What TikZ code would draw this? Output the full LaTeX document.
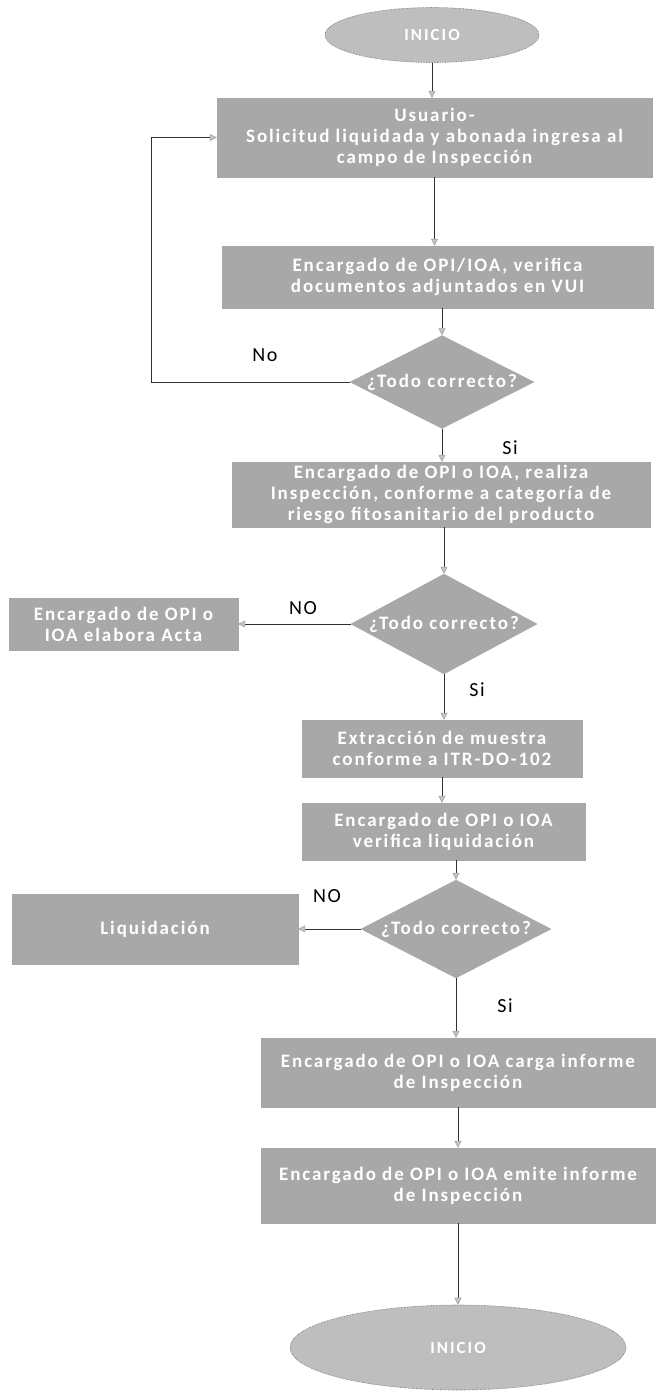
\documentclass[tikz,border=0pt]{standalone}
\usepackage{fontspec}
\setmainfont{Carlito}
\newfontfamily\boxfam[LetterSpace=10]{Carlito}
\newfontfamily\termfam[LetterSpace=12]{Carlito}
\newfontfamily\lblfam[LetterSpace=8]{Carlito}
\usetikzlibrary{shapes.geometric,arrows.meta,calc}
\definecolor{boxfill}{HTML}{A8A8A8}
\definecolor{ellfill}{HTML}{BEBEBE}
\definecolor{lincol}{HTML}{303030}
\newcommand\boxfnt{\boxfam\bfseries\fontsize{19}{21}\selectfont}
\newcommand\termfnt{\termfam\bfseries\fontsize{17}{19}\selectfont}
\newcommand\lblfnt{\lblfam\fontsize{20}{22}\selectfont}
\tikzset{
  procbox/.style={rectangle, fill=boxfill, draw=gray!70, line width=0.4pt, text=white, font=\boxfnt, align=center, inner sep=0pt},
  decis/.style={diamond, aspect=2, fill=boxfill, draw=gray!70, line width=0.4pt, text=white, font=\boxfnt, inner sep=0pt},
  term/.style={ellipse, fill=ellfill, draw=gray!80!black, densely dotted, line width=0.6pt, text=white, font=\termfnt, inner sep=0pt},
  arr/.style={draw=lincol, line width=0.7pt, -{Triangle[length=7pt,width=7pt,color=gray!70,fill=gray!45]}},
  lbl/.style={font=\lblfnt, text=black, inner sep=0pt}
}
\begin{document}
\begin{tikzpicture}[x=1pt,y=-1pt]
\useasboundingbox (0,0) rectangle (656,1394);
\node[term, minimum width=214pt, minimum height=55pt] (start) at (432,35) {INICIO};
\node[procbox, minimum width=435pt, minimum height=79pt] (b1) at (434.5,137.5) {Usuario-\\Solicitud liquidada y abonada ingresa al\\campo de Inspección};
\node[procbox, minimum width=431pt, minimum height=62pt] (b2) at (437.5,277) {Encargado de OPI/IOA, verifica\\documentos adjuntados en VUI};
\node[decis, minimum width=184pt, minimum height=93pt] (d1) at (442,382) {¿Todo correcto?};
\node[procbox, minimum width=418pt, minimum height=65pt] (b3) at (441,494.5) {Encargado de OPI o IOA, realiza\\Inspección, conforme a categoría de\\riesgo fitosanitario del producto};
\node[decis, minimum width=186pt, minimum height=100pt] (d2) at (444,624) {¿Todo correcto?};
\node[procbox, minimum width=229pt, minimum height=52pt] (acta) at (123.5,624) {Encargado de OPI o\\IOA elabora Acta};
\node[procbox, minimum width=280pt, minimum height=57pt] (b4) at (442,748.5) {Extracción de muestra\\conforme a ITR-DO-102};
\node[procbox, minimum width=283pt, minimum height=57pt] (b5) at (443.5,831.5) {Encargado de OPI o IOA\\verifica liquidación};
\node[decis, minimum width=190pt, minimum height=98pt] (d3) at (456,929) {¿Todo correcto?};
\node[procbox, minimum width=286pt, minimum height=70pt] (liq) at (155,929) {Liquidación};
\node[procbox, minimum width=394pt, minimum height=69pt] (b6) at (458,1072.5) {Encargado de OPI o IOA carga informe\\de Inspección};
\node[procbox, minimum width=394pt, minimum height=75pt] (b7) at (458,1185.5) {Encargado de OPI o IOA emite informe\\de Inspección};
\node[term, minimum width=336pt, minimum height=85pt] (end) at (458,1347.5) {INICIO};
% connectors
\draw[arr] (start.south) -- (start.south |- b1.north);
\draw[arr] (b1.south) -- (b1.south |- b2.north);
\draw[arr] (d1.north |- b2.south) -- (d1.north);
\draw[arr] (d1.south) -- (d1.south |- b3.north);
\draw[arr] (d2.north |- b3.south) -- (d2.north);
\draw[arr] (d2.south) -- (d2.south |- b4.north);
\draw[arr] (b4.south) -- (b4.south |- b5.north);
\draw[arr] (d3.north |- b5.south) -- (d3.north);
\draw[arr] (d3.south) -- (d3.south |- b6.north);
\draw[arr] (b6.south) -- (b6.south |- b7.north);
\draw[arr] (b7.south) -- (b7.south |- end.north);
\coordinate (lx) at (151,0);
\draw[arr] (d1.west) -- (d1.west -| lx) |- (b1.west);
\draw[arr] (d2.west) -- (acta.east);
\draw[arr] (d3.west) -- (liq.east);
% labels
\node[lbl] (lno1) at (265,355) {No};
\node[lbl] (lsi1) at (510,448) {Si};
\node[lbl] (lno2) at (303,608) {NO};
\node[lbl] (lsi2) at (477,690) {Si};
\node[lbl] (lno3) at (327,896) {NO};
\node[lbl] (lsi3) at (505,1006) {Si};
\end{tikzpicture}
\end{document}
